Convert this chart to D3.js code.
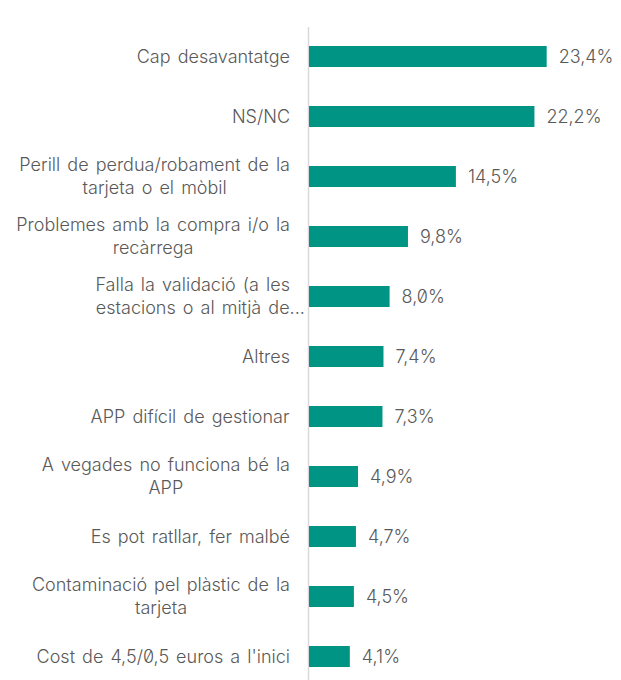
<!DOCTYPE html>
<html>
<head>
<meta charset="utf-8">
<script src="https://cdn.jsdelivr.net/npm/d3@7"></script>
<style>
  html, body { margin: 0; padding: 0; background: #fff; }
  svg { display: block; }
  text { font-family: Inter, "Noto Sans", sans-serif; fill: #595959; font-weight: 300; font-feature-settings: "zero" 1; }
  .cat { word-spacing: 2px; }
</style>
</head>
<body>
<svg id="chart" width="621" height="680"></svg>
<script>
const categories = [
  "Cap desavantatge",
  "NS/NC",
  "Perill de perdua/robament de la\ntarjeta o el mòbil",
  "Problemes amb la compra i/o la\nrecàrrega",
  "Falla la validació (a les\nestacions o al mitjà de...",
  "Altres",
  "APP difícil de gestionar",
  "A vegades no funciona bé la\nAPP",
  "Es pot ratllar, fer malbé",
  "Contaminació pel plàstic de la\ntarjeta",
  "Cost de 4,5/0,5 euros a l'inici"
];
const values = [23.4, 22.2, 14.5, 9.8, 8.0, 7.4, 7.3, 4.9, 4.7, 4.5, 4.1];
const valueLabels = ["23,4%", "22,2%", "14,5%", "9,8%", "8,0%", "7,4%", "7,3%", "4,9%", "4,7%", "4,5%", "4,1%"];

const svg = d3.select("#chart");
const data = categories.map((c, i) => ({ cat: c, v: values[i], lbl: valueLabels[i] }));

const x = d3.scaleLinear().domain([0, 30]).range([308, 614]);
const y = d3.scaleBand().domain(categories).range([26.5, 686.5]).paddingInner(0.65).paddingOuter(0.325);

// axis line
const ax = svg.append("g").attr("transform", `translate(${x(0)},0)`)
  .call(d3.axisLeft(y).tickSize(0).tickFormat(""));
ax.select(".domain").attr("stroke", "#d9d9d9").attr("stroke-width", 1.5);

// bars
svg.append("g").selectAll("rect").data(data).join("rect")
  .attr("x", x(0) + 1)
  .attr("y", d => y(d.cat))
  .attr("width", d => x(d.v) - x(0) - 1)
  .attr("height", y.bandwidth())
  .attr("fill", "#009484");

// value labels
svg.append("g").selectAll("text").data(data).join("text")
  .attr("x", d => x(d.v) + 12)
  .attr("y", d => y(d.cat) + y.bandwidth() / 2)
  .attr("dy", "0.35em")
  .attr("font-size", 18)
  .text(d => d.lbl);

// category labels: block right-aligned, lines centered within block;
// a trailing ellipsis overflows past the block edge (truncated label)
const labelRight = 290;
const lineH = 23;
const lg = svg.append("g");
data.forEach(d => {
  const lines = d.cat.split("\n");
  const cy = y(d.cat) + y.bandwidth() / 2;
  const items = lines.map(ln => {
    const trunc = ln.endsWith("...");
    const core = trunc ? ln.slice(0, -3) : ln;
    const t = lg.append("text").attr("class", "cat").attr("font-size", 18).attr("text-anchor", "start").text(core);
    const w = t.node().getBBox().width;
    t.text(ln);
    return { t, w };
  });
  const maxW = d3.max(items, it => it.w);
  const cx = labelRight - maxW / 2;
  items.forEach((it, j) => {
    it.t.attr("x", cx - it.w / 2)
      .attr("y", cy + (j - (lines.length - 1) / 2) * lineH)
      .attr("dy", "0.35em");
  });
});
</script>
</body>
</html>
